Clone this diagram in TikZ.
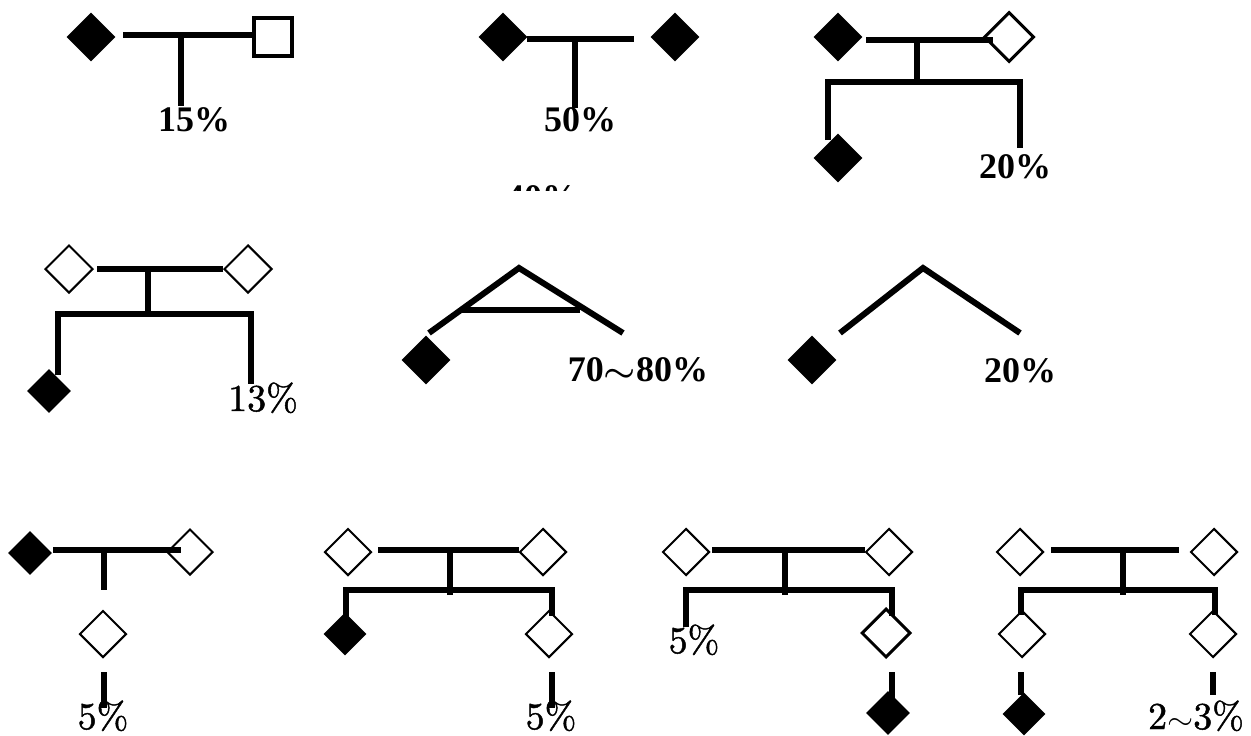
\documentclass[tikz,border=0pt]{standalone}
\usepackage{fontspec}
\newfontfamily\tnr{Liberation Serif}
\newfontfamily\lmheavy{lmroman10-regular.otf}[FakeBold=1.2]
\usetikzlibrary{shapes.geometric}
\newcommand{\widetilda}{\scalebox{1.45}[1.25]{\boldmath$\sim$}}
\newcommand{\widetildb}{\scalebox{1.35}[1.2]{$\sim$}}
\tikzset{
  lnk/.style={line width=6pt, line cap=butt, line join=miter},
  fdia/.style={diamond, fill=black, inner sep=0pt, minimum size=#1},
  fdia/.default=49,
  odia/.style={diamond, draw=black, line width=2pt, inner sep=0pt, minimum size=#1},
  odia/.default=47,
  sqbox/.style={rectangle, draw=black, line width=4pt, inner sep=0pt, minimum size=38},
  tlab/.style={font=\tnr\bfseries\fontsize{36}{40}\selectfont, anchor=base, inner sep=0pt},
  mlab/.style={font=\lmheavy\fontsize{38}{42}\selectfont, anchor=base, inner sep=0pt},
}
\begin{document}
\begin{tikzpicture}[x=1pt, y=-1pt]
\useasboundingbox (0,0) rectangle (1251,736);

% ---- top row, left: parent pair with one child line
\node[fdia] (g1a) at (91,37) {};
\node[sqbox] (g1b) at (273,36.5) {};
\coordinate (g1l) at (123,35);
\coordinate (g1m) at (181,35);
\coordinate (g1d) at (181,106);
\draw[lnk] (g1l) -- (g1l -| g1b.west);
\draw[lnk] (g1m) -- (g1d);
\node[tlab] (g1t) at (194,131) {15\%};

% ---- top row, middle
\node[fdia] (g2a) at (503,37) {};
\node[fdia] (g2b) at (675,37) {};
\coordinate (g2l) at (527,39);
\coordinate (g2r) at (634,39);
\coordinate (g2m) at (575,39);
\coordinate (g2d) at (575,108);
\draw[lnk] (g2l) -- (g2r);
\draw[lnk] (g2m) -- (g2d);
\node[tlab] (g2t) at (580,131) {50\%};

% partly hidden figure under the middle group
\begin{scope}
  \clip (480,0) rectangle (620,190);
  \node[tlab] (g2x) at (542,209) {40\%};
\end{scope}

% ---- top row, right
\node[fdia] (g3a) at (838,37) {};
\node[odia=50, line width=3pt] (g3b) at (1009,37) {};
\coordinate (g3l) at (866,40);
\coordinate (g3r) at (993,40);
\coordinate (g3m) at (917,40);
\coordinate (g3s) at (917,82);
\coordinate (g3p) at (828,82);
\coordinate (g3q) at (1020,82);
\coordinate (g3u) at (828,140);
\coordinate (g3v) at (1020,148);
\draw[lnk] (g3l) -- (g3r);
\draw[lnk] (g3m) -- (g3s);
\draw[lnk] (g3u) -- (g3p) -- (g3q) -- (g3v);
\node[fdia] (g3c) at (838,158) {};
\node[tlab] (g3t) at (1015,178) {20\%};

% ---- middle row, left
\node[odia=48] (g4a) at (69,269) {};
\node[odia=48] (g4b) at (248,269) {};
\coordinate (g4l) at (97,269);
\coordinate (g4m) at (148,269);
\coordinate (g4s) at (148,314);
\coordinate (g4p) at (58,314);
\coordinate (g4q) at (251,314);
\coordinate (g4u) at (58,375);
\coordinate (g4v) at (251,384);
\draw[lnk] (g4l) -- (g4l -| g4b.west);
\draw[lnk] (g4m) -- (g4s);
\draw[lnk] (g4u) -- (g4p) -- (g4q) -- (g4v);
\node[fdia=44] (g4c) at (49,391) {};
\node[mlab] (g4t) at (263,411) {13\%};

% ---- middle row, twins
\coordinate (g5apex) at (519,268);
\coordinate (g5l) at (429,333);
\coordinate (g5r) at (623,333);
\coordinate (g5a1) at (462,310);
\coordinate (g5a2) at (580,310);
\draw[lnk] (g5l) -- (g5apex) -- (g5r);
\draw[lnk] (g5a1) -- (g5a2);
\node[fdia] (g5a) at (426,360) {};
\node[tlab] (g5t) at (638,381) {70\widetilda80\%};

% ---- middle row, right
\coordinate (g6apex) at (923,268);
\coordinate (g6l) at (840,333);
\coordinate (g6r) at (1020,333);
\draw[lnk] (g6l) -- (g6apex) -- (g6r);
\node[fdia] (g6a) at (812,360) {};
\node[tlab] (g6t) at (1020,382) {20\%};

% ---- bottom row, first
\node[fdia=44] (g7a) at (30,553) {};
\node[odia=46] (g7b) at (190,552) {};
\coordinate (g7l) at (53,550);
\coordinate (g7r) at (181,550);
\coordinate (g7m) at (104,550);
\coordinate (g7s) at (104,590);
\draw[lnk] (g7l) -- (g7r);
\draw[lnk] (g7m) -- (g7s);
\node[odia] (g7c) at (103,634) {};
\coordinate (g7e) at (104,672);
\coordinate (g7f) at (104,708);
\draw[lnk] (g7e) -- (g7f);
\node[mlab] (g7t) at (103,729) {5\%};

% ---- bottom row, second
\node[odia] (g8a) at (348,552) {};
\node[odia] (g8b) at (543,552) {};
\coordinate (g8l) at (378,550);
\coordinate (g8m) at (450,550);
\coordinate (g8s) at (450,595);
\coordinate (g8p) at (346,590);
\coordinate (g8q) at (552,590);
\coordinate (g8u) at (346,620);
\coordinate (g8v) at (552,616);
\draw[lnk] (g8l) -- (g8l -| g8b.west);
\draw[lnk] (g8m) -- (g8s);
\draw[lnk] (g8u) -- (g8p) -- (g8q) -- (g8v);
\node[fdia=43] (g8c) at (345,634) {};
\node[odia] (g8d) at (549,634) {};
\coordinate (g8e) at (552,672);
\coordinate (g8f) at (552,708);
\draw[lnk] (g8e) -- (g8f);
\node[mlab] (g8t) at (551,729) {5\%};

% ---- bottom row, third
\node[odia] (g9a) at (686,552) {};
\node[odia] (g9b) at (889,552) {};
\coordinate (g9l) at (712,550);
\coordinate (g9m) at (785,550);
\coordinate (g9s) at (785,595);
\coordinate (g9p) at (686,590);
\coordinate (g9q) at (892,590);
\coordinate (g9u) at (686,627);
\coordinate (g9v) at (892,616);
\draw[lnk] (g9l) -- (g9l -| g9b.west);
\draw[lnk] (g9m) -- (g9s);
\draw[lnk] (g9u) -- (g9p) -- (g9q) -- (g9v);
\node[mlab] (g9t) at (694,653) {5\%};
\node[odia=49, line width=3pt] (g9c) at (886,633) {};
\coordinate (g9e) at (892,672);
\coordinate (g9f) at (892,700);
\draw[lnk] (g9e) -- (g9f);
\node[fdia=44] (g9d) at (888,713) {};

% ---- bottom row, fourth
\node[odia] (g10a) at (1020,552) {};
\node[odia] (g10b) at (1214,552) {};
\coordinate (g10l) at (1051,550);
\coordinate (g10r) at (1179,550);
\coordinate (g10m) at (1123,550);
\coordinate (g10s) at (1123,595);
\coordinate (g10p) at (1021,590);
\coordinate (g10q) at (1215,590);
\coordinate (g10u) at (1021,615);
\coordinate (g10v) at (1215,615);
\draw[lnk] (g10l) -- (g10r);
\draw[lnk] (g10m) -- (g10s);
\draw[lnk] (g10u) -- (g10p) -- (g10q) -- (g10v);
\node[odia] (g10c) at (1022,634) {};
\node[odia] (g10d) at (1213,634) {};
\coordinate (g10e) at (1021,672);
\coordinate (g10f) at (1021,695);
\coordinate (g10g) at (1213,672);
\coordinate (g10h) at (1213,695);
\draw[lnk] (g10e) -- (g10f);
\draw[lnk] (g10g) -- (g10h);
\node[fdia=43] (g10x) at (1024,714) {};
\node[mlab] (g10t) at (1196,729) {2\widetildb3\%};
\end{tikzpicture}
\end{document}
